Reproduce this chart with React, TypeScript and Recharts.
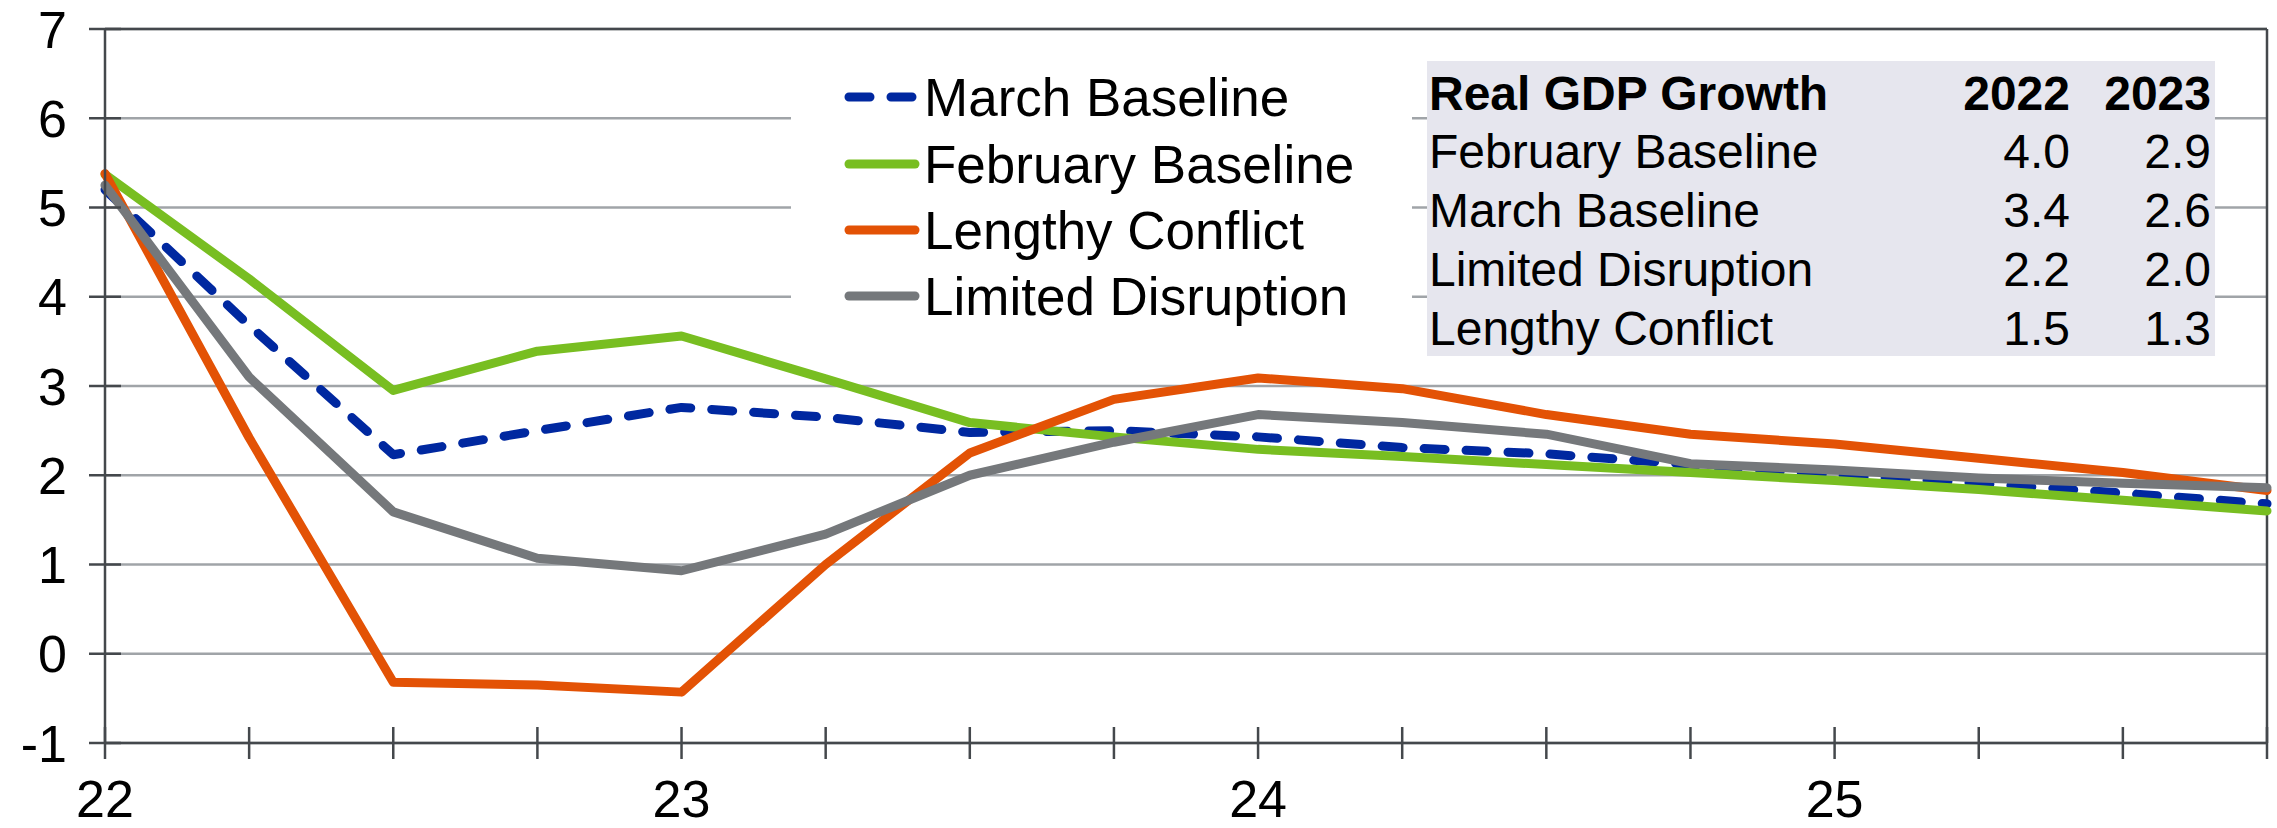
import React from "react";
import {
  LineChart,
  Line,
  XAxis,
  YAxis,
  CartesianGrid,
  ReferenceLine,
} from "recharts";

const quarters = [
  "22Q1", "22Q2", "22Q3", "22Q4",
  "23Q1", "23Q2", "23Q3", "23Q4",
  "24Q1", "24Q2", "24Q3", "24Q4",
  "25Q1", "25Q2", "25Q3", "25Q4",
];

const marchBaseline = [5.2, 3.68, 2.23, 2.5, 2.76, 2.65, 2.48, 2.5, 2.43, 2.31, 2.24, 2.12, 2.0, 1.91, 1.8, 1.68];
const februaryBaseline = [5.37, 4.2, 2.95, 3.39, 3.56, 3.08, 2.59, 2.43, 2.29, 2.21, 2.12, 2.03, 1.94, 1.84, 1.72, 1.6];
const lengthyConflict = [5.38, 2.42, -0.32, -0.35, -0.43, 1.0, 2.25, 2.85, 3.09, 2.97, 2.68, 2.46, 2.35, 2.19, 2.03, 1.83];
const limitedDisruption = [5.25, 3.1, 1.59, 1.07, 0.93, 1.34, 2.0, 2.37, 2.68, 2.59, 2.46, 2.13, 2.06, 1.97, 1.91, 1.86];

const yTicks = [-1, 0, 1, 2, 3, 4, 5, 6, 7];

// summary table
const tableTitle = "Real GDP Growth";
const tableYears = ["2022", "2023"];
const tableRows = ["February Baseline", "March Baseline", "Limited Disruption", "Lengthy Conflict"];
const growth2022 = ["4.0", "3.4", "2.2", "1.5"];
const growth2023 = ["2.9", "2.6", "2.0", "1.3"];

const series = [
  { key: "march", name: "March Baseline", color: "#0028a0", dash: "21 21" },
  { key: "february", name: "February Baseline", color: "#78be21" },
  { key: "lengthy", name: "Lengthy Conflict", color: "#e35205" },
  { key: "limited", name: "Limited Disruption", color: "#75787b" },
];

const data = quarters.map((q, i) => ({
  q,
  march: marchBaseline[i],
  february: februaryBaseline[i],
  lengthy: lengthyConflict[i],
  limited: limitedDisruption[i],
}));

const WIDTH = 2277;
const HEIGHT = 828;
const AXIS_X = 105;
const AXIS_Y = 743;
const AXIS_COLOR = "#44484c";
const GRID_COLOR = "#a0a4a8";
const FONT = "'Liberation Sans', Arial, sans-serif";

// tick marks cross the axis line, so they are drawn by hand
const YTick = (props: any) => {
  const { y, payload } = props;
  return (
    <g>
      <line x1={AXIS_X - 16} x2={AXIS_X + 16} y1={y} y2={y} stroke={AXIS_COLOR} strokeWidth={2.5} />
      <text x={67} y={y} dy="0.36em" textAnchor="end" fontSize={52} fontFamily={FONT} fill="#000">
        {payload.value}
      </text>
    </g>
  );
};

const XTick = (props: any) => {
  const { x, payload } = props;
  const label = String(payload.value);
  const isYear = label.endsWith("Q1");
  return (
    <g>
      <line x1={x} x2={x} y1={AXIS_Y - 16} y2={AXIS_Y + 16} stroke={AXIS_COLOR} strokeWidth={2.5} />
      {isYear && (
        <text x={x} y={817} textAnchor="middle" fontSize={52} fontFamily={FONT} fill="#000">
          {label.slice(0, 2)}
        </text>
      )}
    </g>
  );
};

function LegendBox() {
  const rows = [47, 114, 180, 246];
  return (
    <div style={{ position: "absolute", left: 791, top: 50, width: 621, height: 290, background: "#fff" }}>
      <svg width={621} height={290}>
        {series.map((s, i) => (
          <g key={s.key}>
            <line
              x1={58}
              x2={124}
              y1={rows[i]}
              y2={rows[i]}
              stroke={s.color}
              strokeWidth={9}
              strokeLinecap="round"
              strokeDasharray={s.dash}
            />
            <text x={133} y={rows[i]} dy="0.36em" fontSize={53} fontFamily={FONT} fill="#000">
              {s.name}
            </text>
          </g>
        ))}
      </svg>
    </div>
  );
}

function GrowthTable() {
  const baselines = [49, 107, 166, 225, 284];
  return (
    <div style={{ position: "absolute", left: 1427, top: 61, width: 788, height: 295, background: "#e6e6ee" }}>
      <svg width={788} height={295} fontFamily={FONT} fontSize={48}>
        <text x={2} y={baselines[0]} fontWeight="bold" fill="#000">{tableTitle}</text>
        <text x={643} y={baselines[0]} fontWeight="bold" textAnchor="end" fill="#000">{tableYears[0]}</text>
        <text x={784} y={baselines[0]} fontWeight="bold" textAnchor="end" fill="#000">{tableYears[1]}</text>
        {tableRows.map((r, i) => (
          <g key={r}>
            <text x={2} y={baselines[i + 1]} fill="#000">{r}</text>
            <text x={643} y={baselines[i + 1]} textAnchor="end" fill="#000">{growth2022[i]}</text>
            <text x={784} y={baselines[i + 1]} textAnchor="end" fill="#000">{growth2023[i]}</text>
          </g>
        ))}
      </svg>
    </div>
  );
}

export default function App() {
  return (
    <div style={{ position: "absolute", left: 0, top: 0, width: WIDTH, height: HEIGHT, background: "#fff" }}>
      <LineChart
        width={WIDTH}
        height={HEIGHT}
        data={data}
        margin={{ top: 29, right: 10, bottom: 0, left: 0 }}
      >
        <CartesianGrid horizontal vertical={false} stroke={GRID_COLOR} strokeWidth={2.5} />
        <XAxis
          dataKey="q"
          interval={0}
          height={HEIGHT - AXIS_Y}
          axisLine={{ stroke: AXIS_COLOR, strokeWidth: 2.5 }}
          tickLine={false}
          tick={<XTick />}
        />
        <YAxis
          domain={[-1, 7]}
          ticks={yTicks}
          width={AXIS_X}
          axisLine={{ stroke: AXIS_COLOR, strokeWidth: 2.5 }}
          tickLine={false}
          tick={<YTick />}
          allowDataOverflow
        />
        <ReferenceLine y={7} stroke={AXIS_COLOR} strokeWidth={2.5} />
        <ReferenceLine x="25Q4" stroke={AXIS_COLOR} strokeWidth={2.5} />
        {series.map((s) => (
          <Line
            key={s.key}
            type="linear"
            dataKey={s.key}
            name={s.name}
            stroke={s.color}
            strokeWidth={9}
            strokeDasharray={s.dash}
            strokeLinecap="round"
            strokeLinejoin="round"
            dot={false}
            activeDot={false}
            isAnimationActive={false}
          />
        ))}
      </LineChart>
      <LegendBox />
      <GrowthTable />
    </div>
  );
}
